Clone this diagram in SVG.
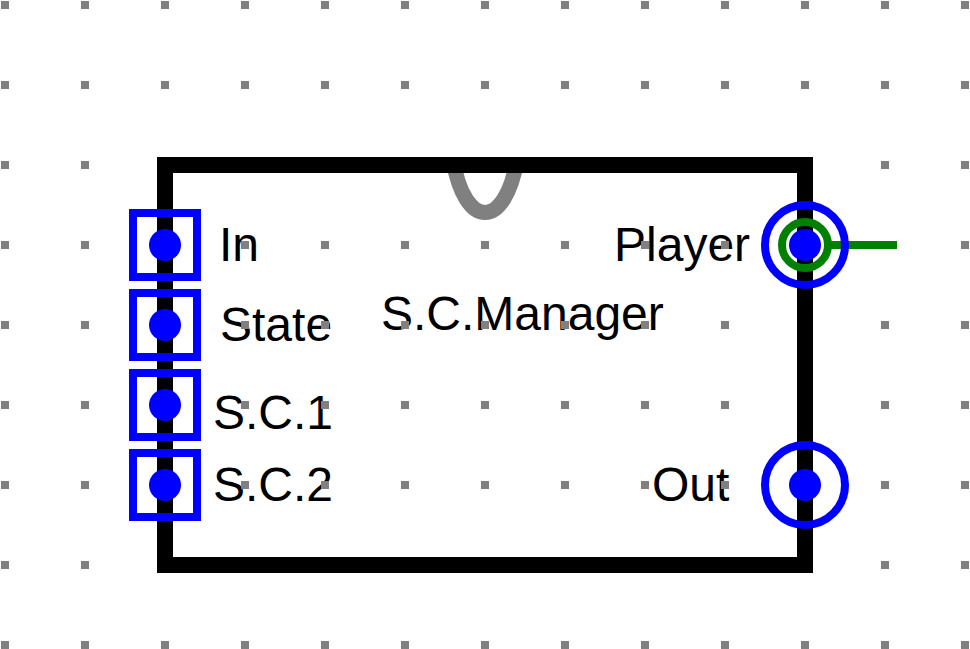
<svg xmlns="http://www.w3.org/2000/svg" width="970" height="649" viewBox="0 0 970 649">
  <style>
    .lbl { font-family: "Liberation Sans", Arial, sans-serif; font-size: 48px; fill: #000000; }
    .pinbox { fill: none; stroke: #0000ff; stroke-width: 8; }
    .pindot { fill: #0000ff; }
    .pinring { fill: none; stroke: #0000ff; stroke-width: 8; }
  </style>
  <defs>
    <pattern id="grid" x="0" y="0" width="80" height="80" patternUnits="userSpaceOnUse">
      <rect x="1" y="1" width="8" height="8" fill="#808080"/>
    </pattern>
  </defs>
  <rect x="0" y="0" width="970" height="649" fill="#ffffff"/>

  <g id="labels">
    <text class="lbl" x="219" y="261">In</text>
    <text class="lbl" x="220" y="341">State</text>
    <text class="lbl" x="213" y="429">S.C.1</text>
    <text class="lbl" x="213" y="501">S.C.2</text>
    <text class="lbl" x="381" y="330">S.C.Manager</text>
    <text class="lbl" x="614" y="261">Player</text>
    <text class="lbl" x="652" y="501">Out</text>
  </g>

  <rect id="grid-dots" x="0" y="0" width="970" height="649" fill="url(#grid)"/>

  <g id="scmanager">
    <path d="M 453 160 C 465 230 505 230 517 160" fill="none" stroke="#808080" stroke-width="15"/>
    <rect x="165" y="165" width="640" height="400" fill="none" stroke="#000000" stroke-width="16"/>
  </g>

  <g id="connectors">
    <line x1="826" y1="245" x2="897" y2="245" stroke="#008000" stroke-width="8"/>
  </g>

  <g id="pin-in">
    <rect class="pinbox" x="133" y="213" width="64" height="64"/>
    <circle class="pindot" cx="165" cy="245" r="16"/>
  </g>
  <g id="pin-state">
    <rect class="pinbox" x="133" y="293" width="64" height="64"/>
    <circle class="pindot" cx="165" cy="325" r="16"/>
  </g>
  <g id="pin-sc1">
    <rect class="pinbox" x="133" y="373" width="64" height="64"/>
    <circle class="pindot" cx="165" cy="405" r="16"/>
  </g>
  <g id="pin-sc2">
    <rect class="pinbox" x="133" y="453" width="64" height="64"/>
    <circle class="pindot" cx="165" cy="485" r="16"/>
  </g>
  <g id="pin-player">
    <circle class="pinring" cx="805" cy="245" r="40"/>
    <circle cx="805" cy="245" r="23" fill="none" stroke="#008000" stroke-width="8"/>
    <circle class="pindot" cx="805" cy="245" r="16"/>
  </g>
  <g id="pin-out">
    <circle class="pinring" cx="805" cy="485" r="40"/>
    <circle class="pindot" cx="805" cy="485" r="16"/>
  </g>
</svg>
